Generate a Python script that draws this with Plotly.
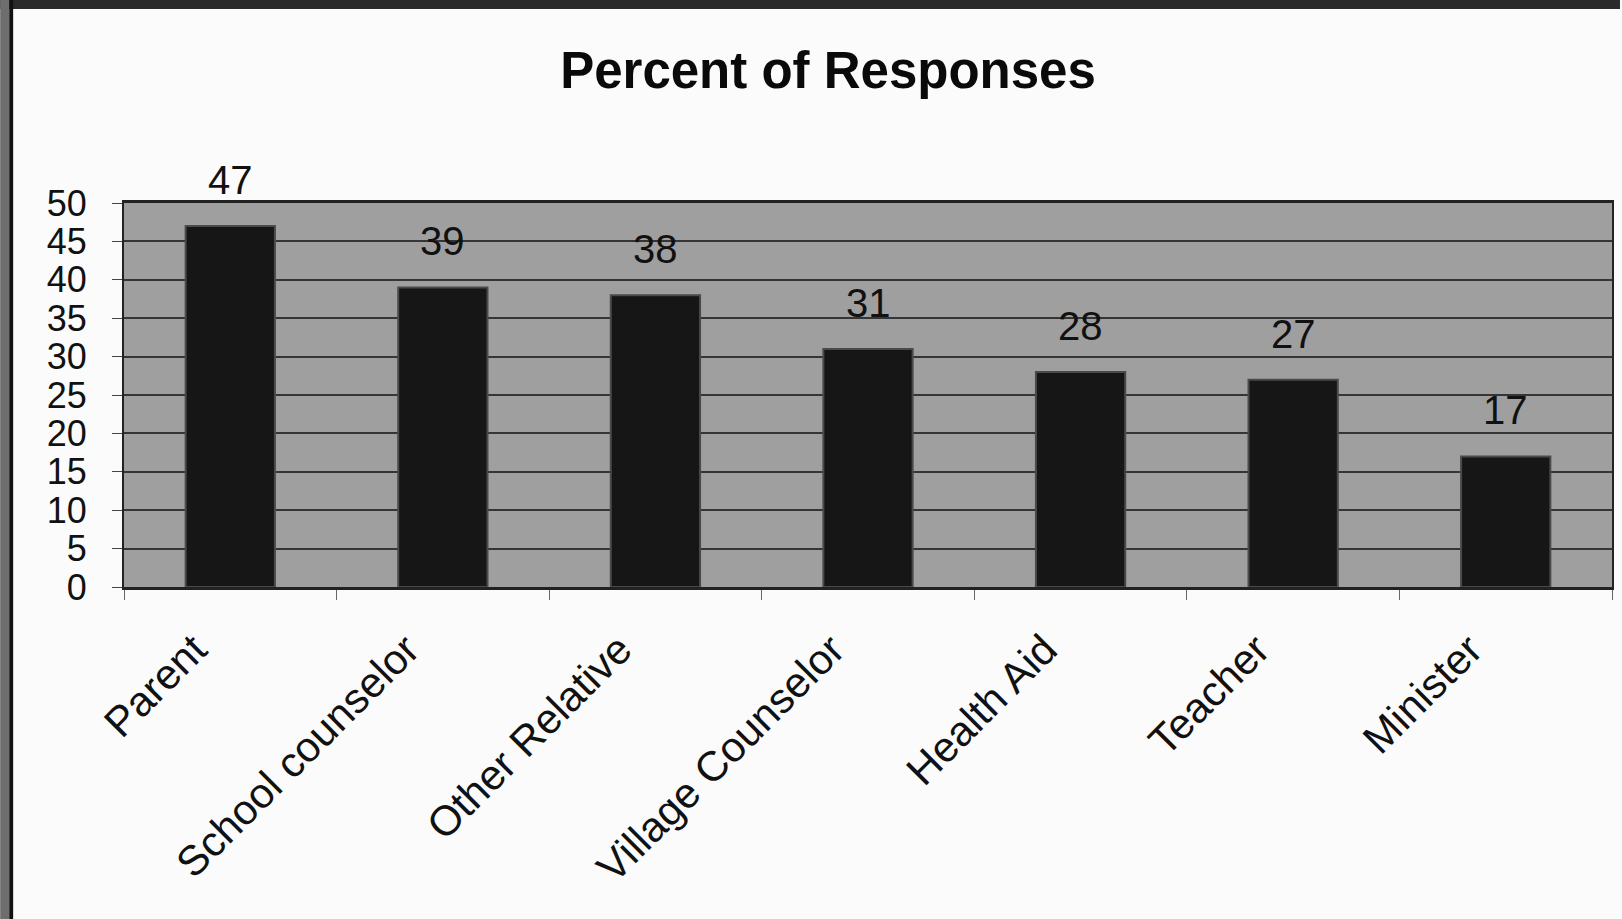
"""Bar chart: percent of responses by source of help."""

import plotly.graph_objects as go

CATEGORIES = [
    "Parent",
    "School counselor",
    "Other Relative",
    "Village Counselor",
    "Health Aid",
    "Teacher",
    "Minister",
]
PERCENTS = [47, 39, 38, 31, 28, 27, 17]
Y_TICKS = list(range(0, 55, 5))

FONT = "Liberation Sans, Arial, sans-serif"
WIDTH, HEIGHT = 1622, 919
MARGIN = {"l": 124, "r": 8, "t": 203, "b": 332}


def _px(x_pix, y_pix):
    """Convert page pixels to paper coordinates (decoration only)."""
    pw = WIDTH - MARGIN["l"] - MARGIN["r"]
    ph = HEIGHT - MARGIN["t"] - MARGIN["b"]
    return (x_pix - MARGIN["l"]) / pw, (HEIGHT - MARGIN["b"] - y_pix) / ph


fig = go.Figure(
    go.Bar(
        x=CATEGORIES,
        y=PERCENTS,
        marker={"color": "#161616", "line": {"color": "#4a4a4a", "width": 2}},
        width=0.42,
        hovertemplate="%{x}: %{y}%<extra></extra>",
    )
)

# value labels sit well above the bar tops, as in the original
for cat, val in zip(CATEGORIES, PERCENTS):
    fig.add_annotation(
        x=cat,
        y=val,
        text=str(val),
        showarrow=False,
        yanchor="bottom",
        yshift=22,
        font={"size": 40, "family": FONT, "color": "#111111"},
    )

# photo-style frame: dark band on top and left edge
x0, y0 = _px(0, 0)
x1, y1 = _px(WIDTH, 9)
fig.add_shape(type="rect", xref="paper", yref="paper", x0=x0, x1=x1, y0=y1, y1=y0,
              fillcolor="#2a2a2a", line={"width": 0}, layer="below")
lx0, _ = _px(9, 0)
lx1, _ = _px(13, 0)
_, ly0 = _px(0, HEIGHT)
fig.add_shape(type="rect", xref="paper", yref="paper", x0=lx0, x1=lx1, y0=ly0, y1=y0,
              fillcolor="#111111", line={"width": 0}, layer="below")
fig.add_shape(type="rect", xref="paper", yref="paper", x0=x0, x1=lx0, y0=ly0, y1=y0,
              fillcolor="#6e6e6e", line={"width": 0}, layer="below")

fig.update_layout(
    width=WIDTH,
    height=HEIGHT,
    margin=MARGIN,
    paper_bgcolor="#fbfbfb",
    plot_bgcolor="#9f9f9f",
    showlegend=False,
    font={"family": FONT, "color": "#111111"},
    title={
        "text": "<b>Percent of Responses</b>",
        "x": 828 / WIDTH,
        "xref": "container",
        "xanchor": "center",
        "y": 1 - 70 / HEIGHT,
        "yanchor": "middle",
        "font": {"size": 51, "family": FONT, "color": "#0a0a0a"},
    },
)
fig.update_xaxes(
    tickangle=-45,
    tickfont={"size": 42, "family": FONT},
    ticks="outside",
    tickson="boundaries",
    ticklen=10,
    tickcolor="#666666",
    ticklabelstandoff=18,
    ticklabelshift=-36,
    showline=True,
    linecolor="#222222",
    linewidth=3,
    mirror=True,
    showgrid=False,
)
fig.update_yaxes(
    range=[0, 50],
    tickvals=Y_TICKS,
    tickfont={"size": 36, "family": FONT},
    ticks="outside",
    ticklen=10,
    tickcolor="#444444",
    ticklabelstandoff=18,
    showline=True,
    linecolor="#222222",
    linewidth=2,
    mirror=True,
    showgrid=True,
    gridcolor="#353535",
    gridwidth=2,
    zeroline=False,
)

fig.write_html(
    "out.html",
    config={"displayModeBar": False},
    post_script="document.body.style.margin='0';",
)
